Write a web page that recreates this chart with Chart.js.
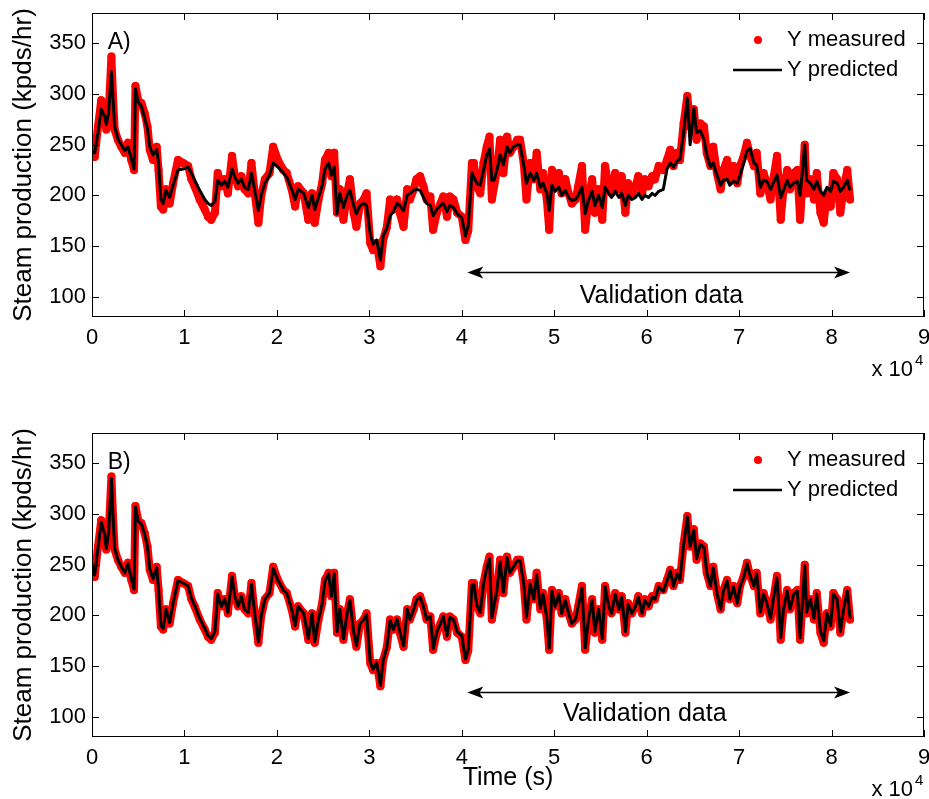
<!DOCTYPE html>
<html>
<head>
<meta charset="utf-8">
<title>Steam production</title>
<script src="https://cdn.jsdelivr.net/npm/chart.js@4.4.0/dist/chart.umd.min.js"></script>
<style>
    html, body { margin: 0; padding: 0; background: #fff; }
    #wrap { position: relative; width: 929px; height: 799px; }
    canvas { position: absolute; left: 0; }
    #chartA { top: 0; }
    #chartB { top: 400px; }
</style>
</head>
<body>
<div id="wrap">
    <canvas id="chartA" width="929" height="400"></canvas>
    <canvas id="chartB" width="929" height="399"></canvas>
</div>
<script>
// time stamps (s)
const timeSec = [
    0, 290, 650, 1000, 1370, 1550, 1800, 2100, 2270, 2450,
    2800, 3170, 3540, 3900, 4250, 4550, 4700, 5000, 5350, 5700,
    6000, 6250, 6600, 7000, 7200, 7450, 7700, 8000, 8400, 8770,
    9300, 9850, 10400, 10750, 11100, 11650, 12200, 12550, 12900, 13300,
    13600, 14000, 14350, 14700, 15150, 15450, 15800, 16150, 16500, 16900,
    17250, 17600, 18000, 18300, 18700, 19200, 19600, 20100, 20700, 21070,
    21600, 21970, 22300, 22900, 23400, 23800, 24100, 24500, 24900, 25200,
    25600, 25900, 26200, 26500, 26800, 27200, 27600, 27900, 28300, 28600,
    29000, 29400, 29700, 30100, 30400, 30800, 31200, 31500, 31900, 32250,
    32600, 33000, 33300, 33700, 34100, 34400, 34800, 35100, 35500, 35850,
    36200, 36600, 36900, 37300, 37700, 38000, 38400, 38700, 39100, 39500,
    40000, 40400, 40700, 41100, 41300, 41630, 42000, 42350, 42700, 43000,
    43250, 43500, 43800, 44150, 44500, 44900, 45200, 45600, 46000, 46300,
    46700, 47000, 47400, 47800, 48100, 48500, 48800, 49200, 49460, 49750,
    50100, 50500, 50800, 51200, 51550, 51900, 52300, 52600, 53000, 53350,
    53700, 54100, 54400, 54800, 55200, 55500, 55900, 56200, 56600, 57000,
    57300, 57700, 58000, 58400, 58800, 59100, 59500, 59800, 60200, 60600,
    60900, 61300, 61800, 62200, 62550, 62900, 63300, 63600, 64000, 64400,
    64700, 65100, 65400, 65800, 66200, 66500, 66900, 67200, 67600, 68000,
    68300, 68700, 69000, 69400, 69800, 70100, 70500, 70850, 71200, 71600,
    71900, 72300, 72650, 73000, 73400, 73700, 74100, 74500, 74800, 75200,
    75500, 75900, 76300, 76600, 77100, 77300, 77700, 78100, 78400, 78800,
    79150, 79500, 79900, 80200, 80600, 80950, 81300, 81700, 82000
];

// measured steam production (kpds/hr)
const yMeasured = [
    252, 238, 268, 294, 281, 265, 281, 337, 298, 265,
    255, 248, 242, 252, 235, 225, 308, 294, 291, 281,
    268, 245, 235, 248, 225, 189, 186, 206, 192, 212,
    235, 232, 229, 216, 209, 196, 186, 179, 176, 183,
    222, 209, 216, 202, 239, 219, 209, 219, 206, 202,
    232, 202, 173, 199, 216, 222, 248, 235, 225, 222,
    206, 189, 209, 202, 176, 202, 173, 196, 212, 235,
    242, 219, 242, 183, 206, 176, 202, 216, 183, 169,
    192, 196, 202, 153, 146, 153, 130, 156, 169, 196,
    186, 196, 183, 169, 206, 196, 206, 216, 219, 209,
    196, 199, 166, 183, 192, 199, 179, 199, 196, 183,
    179, 156, 165, 232, 232, 209, 202, 232, 248, 258,
    196, 209, 225, 255, 222, 258, 242, 248, 255, 255,
    232, 196, 232, 216, 242, 206, 222, 196, 166, 225,
    209, 222, 202, 216, 202, 192, 196, 209, 229, 166,
    196, 216, 183, 206, 176, 229, 209, 202, 222, 206,
    219, 183, 212, 202, 209, 219, 202, 216, 209, 219,
    216, 229, 225, 235, 245, 229, 242, 235, 271, 298,
    268, 285, 255, 271, 268, 242, 229, 248, 222, 206,
    225, 235, 216, 229, 212, 229, 239, 252, 239, 229,
    242, 202, 222, 212, 196, 216, 239, 176, 206, 225,
    206, 222, 225, 176, 250, 202, 216, 196, 222, 183,
    173, 202, 189, 222, 216, 183, 206, 225, 196
];

// panel A model output
const yPredictedA = [
    243, 242, 262, 285, 278, 270, 282, 322, 296, 268,
    256, 250, 244, 248, 236, 226, 305, 292, 288, 276,
    266, 248, 240, 245, 232, 196, 192, 205, 198, 210,
    225, 226, 228, 222, 215, 205, 196, 192, 190, 194,
    215, 210, 214, 208, 226, 218, 212, 216, 208, 206,
    222, 205, 185, 200, 212, 220, 232, 228, 222, 218,
    206, 196, 206, 202, 188, 200, 186, 198, 210, 226,
    232, 220, 228, 182, 202, 188, 200, 205, 190, 182,
    190, 192, 190, 162, 152, 156, 136, 160, 168, 180,
    184, 192, 190, 185, 200, 202, 205, 206, 205, 198,
    192, 190, 180, 186, 190, 192, 184, 190, 188, 182,
    178, 160, 170, 222, 218, 212, 210, 225, 240, 246,
    215, 215, 225, 240, 230, 248, 242, 248, 250, 250,
    230, 212, 222, 215, 222, 208, 212, 202, 185, 210,
    204, 208, 200, 205, 198, 195, 196, 200, 208, 182,
    195, 204, 190, 200, 188, 208, 202, 198, 204, 198,
    202, 190, 200, 196, 198, 202, 196, 200, 198, 202,
    200, 204, 206, 226, 232, 228, 234, 236, 262, 296,
    250, 286, 262, 264, 255, 240, 228, 232, 220, 210,
    215, 216, 210, 214, 212, 220, 232, 244, 246, 232,
    230, 208, 215, 214, 206, 212, 220, 198, 205, 215,
    208, 212, 214, 200, 250, 215, 212, 206, 214, 204,
    200, 208, 204, 214, 212, 204, 208, 215, 205
];

// panel B model output
const yPredictedB = [
    250, 240, 267, 292, 280, 266, 282, 335, 299, 266,
    255, 248, 242, 251, 236, 226, 307, 293, 290, 280,
    268, 246, 236, 247, 226, 190, 187, 206, 193, 212,
    234, 232, 229, 217, 210, 197, 187, 180, 177, 184,
    221, 209, 216, 203, 238, 219, 209, 219, 206, 203,
    231, 202, 174, 199, 216, 222, 246, 235, 225, 222,
    206, 190, 209, 202, 177, 202, 174, 196, 212, 234,
    241, 219, 241, 184, 206, 177, 202, 215, 184, 170,
    192, 196, 201, 154, 147, 153, 131, 156, 169, 195,
    186, 196, 184, 170, 206, 196, 206, 215, 218, 209,
    196, 199, 167, 184, 192, 199, 180, 198, 196, 184,
    180, 157, 166, 230, 231, 210, 203, 231, 247, 256,
    198, 210, 225, 253, 223, 257, 242, 248, 254, 254,
    232, 198, 231, 216, 240, 207, 221, 197, 168, 224,
    209, 221, 202, 215, 202, 192, 196, 209, 227, 168,
    196, 215, 184, 206, 177, 228, 209, 202, 221, 206,
    218, 184, 211, 202, 209, 218, 202, 215, 209, 218,
    216, 228, 224, 234, 244, 229, 241, 235, 270, 297,
    268, 284, 256, 270, 267, 242, 229, 247, 222, 206,
    224, 234, 216, 228, 212, 228, 238, 251, 239, 229,
    241, 203, 221, 212, 197, 216, 237, 178, 206, 224,
    206, 221, 224, 178, 249, 203, 216, 197, 221, 184,
    175, 202, 190, 221, 216, 184, 206, 224, 197
];

const xTickValues = [0, 10000, 20000, 30000, 40000, 50000, 60000, 70000, 80000, 90000];
const yTickValues = [100, 150, 200, 250, 300, 350];

// validation window marker
const validationStart = 40600;
const validationEnd = 82000;
const arrowLevel = 124;

const FONT = "Arial, 'Liberation Sans', sans-serif";

function line(ctx, x1, y1, x2, y2) {
    ctx.beginPath();
    ctx.moveTo(x1, y1);
    ctx.lineTo(x2, y2);
    ctx.stroke();
}

function arrowHead(ctx, tipX, y, dir) {
    ctx.beginPath();
    ctx.moveTo(tipX, y);
    ctx.lineTo(tipX + dir * 16, y - 6);
    ctx.lineTo(tipX + dir * 12, y);
    ctx.lineTo(tipX + dir * 16, y + 6);
    ctx.closePath();
    ctx.fill();
}

// box, inward ticks, legend and notes, MATLAB style
const panelDecor = {
    id: 'panelDecor',
    afterDatasetsDraw(chart, args, opts) {
        const ctx = chart.ctx;
        const a = chart.chartArea;
        const x = chart.scales.x;
        const y = chart.scales.y;

        ctx.save();
        ctx.strokeStyle = '#000';
        ctx.fillStyle = '#000';
        ctx.lineWidth = 1;
        ctx.strokeRect(a.left + 0.5, a.top + 0.5, a.right - a.left - 1, a.bottom - a.top - 1);

        xTickValues.forEach(function (v) {
            const px = Math.round(x.getPixelForValue(v)) + 0.5;
            line(ctx, px, a.bottom, px, a.bottom - 7);
            line(ctx, px, a.top, px, a.top + 7);
        });
        yTickValues.forEach(function (v) {
            const py = Math.round(y.getPixelForValue(v)) + 0.5;
            line(ctx, a.left, py, a.left + 7, py);
            line(ctx, a.right, py, a.right - 7, py);
        });

        // validation arrow
        const ay = Math.round(y.getPixelForValue(arrowLevel)) + 0.5;
        const ax1 = x.getPixelForValue(validationStart);
        const ax2 = x.getPixelForValue(validationEnd);
        ctx.lineWidth = 1.3;
        line(ctx, ax1 + 10, ay, ax2 - 10, ay);
        arrowHead(ctx, ax1, ay, 1);
        arrowHead(ctx, ax2, ay, -1);

        ctx.textBaseline = 'middle';
        ctx.textAlign = 'center';
        ctx.font = '25px ' + FONT;
        ctx.fillText('Validation data', x.getPixelForValue(opts.textX), y.getPixelForValue(opts.textY));

        // panel label
        ctx.textAlign = 'left';
        ctx.font = '23px ' + FONT;
        ctx.fillText(opts.label, x.getPixelForValue(1700), y.getPixelForValue(351));

        // legend
        ctx.font = '22px ' + FONT;
        ctx.fillStyle = '#ff0000';
        ctx.beginPath();
        ctx.arc(a.right - 166, a.top + 27, 4, 0, 2 * Math.PI);
        ctx.fill();
        ctx.fillStyle = '#000';
        ctx.fillText('Y measured', a.right - 137, a.top + 27);
        ctx.lineWidth = 2.5;
        line(ctx, a.right - 191, a.top + 57, a.right - 142, a.top + 57);
        ctx.fillText('Y predicted', a.right - 137, a.top + 57);

        // exponent of the x axis
        ctx.textAlign = 'right';
        ctx.font = '22px ' + FONT;
        ctx.fillText('x 10', a.right - 11, a.bottom + 53);
        ctx.textAlign = 'left';
        ctx.font = '15px ' + FONT;
        ctx.fillText('4', a.right - 9, a.bottom + 44);
        ctx.restore();
    }
};

function MakePanel(canvasId, predicted, opts) {
    const measuredPoints = timeSec.map((t, i) => ({ x: t, y: yMeasured[i] }));
    const predictedPoints = timeSec.map((t, i) => ({ x: t, y: predicted[i] }));

    return new Chart(document.getElementById(canvasId), {
        type: 'line',
        data: {
            datasets: [
                {
                    label: 'Y measured',
                    data: measuredPoints,
                    borderColor: '#ff0000',
                    backgroundColor: '#ff0000',
                    borderWidth: 8,
                    borderJoinStyle: 'round',
                    borderCapStyle: 'round',
                    pointRadius: 4,
                    pointBorderWidth: 0,
                    order: 2
                },
                {
                    label: 'Y predicted',
                    data: predictedPoints,
                    borderColor: '#000000',
                    borderWidth: 3,
                    borderJoinStyle: 'round',
                    pointRadius: 0,
                    order: 1
                }
            ]
        },
        options: {
            responsive: false,
            animation: false,
            events: [],
            layout: {
                padding: { top: opts.top, right: 5, left: 0, bottom: 0 }
            },
            plugins: {
                legend: { display: false },
                tooltip: { enabled: false },
                panelDecor: opts
            },
            scales: {
                x: {
                    type: 'linear',
                    min: 0,
                    max: 90000,
                    border: { display: false },
                    grid: { display: false, drawTicks: false },
                    ticks: {
                        stepSize: 10000,
                        autoSkip: false,
                        maxRotation: 0,
                        padding: 8,
                        color: '#000',
                        font: { family: FONT, size: 22 },
                        callback: function (value) {
                            return value / 10000;
                        }
                    },
                    title: {
                        display: opts.timeTitle,
                        text: 'Time (s)',
                        color: '#000',
                        font: { family: FONT, size: 25 },
                        padding: { top: 0, bottom: 6 }
                    },
                    afterFit: function (scale) {
                        scale.height = opts.xHeight;
                        // let the last label hang over the edge like the original
                        scale.paddingLeft = 0;
                        scale.paddingRight = 0;
                    }
                },
                y: {
                    min: 80,
                    max: 380,
                    border: { display: false },
                    grid: { display: false, drawTicks: false },
                    afterBuildTicks: function (scale) {
                        scale.ticks = yTickValues.map(v => ({ value: v }));
                    },
                    ticks: {
                        padding: 6,
                        color: '#000',
                        font: { family: FONT, size: 22 }
                    },
                    title: {
                        display: true,
                        text: 'Steam production (kpds/hr)',
                        color: '#000',
                        font: { family: FONT, size: 26 },
                        padding: { top: 8, bottom: 0 }
                    },
                    afterFit: function (scale) {
                        scale.width = 92;
                        scale.paddingTop = 0;
                        scale.paddingBottom = 0;
                    }
                }
            }
        },
        plugins: [panelDecor]
    });
}

MakePanel('chartA', yPredictedA, { label: 'A)', textX: 61600, textY: 101, top: 13, xHeight: 83, timeTitle: false });
MakePanel('chartB', yPredictedB, { label: 'B)', textX: 59800, textY: 103, top: 33, xHeight: 62, timeTitle: true });
</script>
</body>
</html>
